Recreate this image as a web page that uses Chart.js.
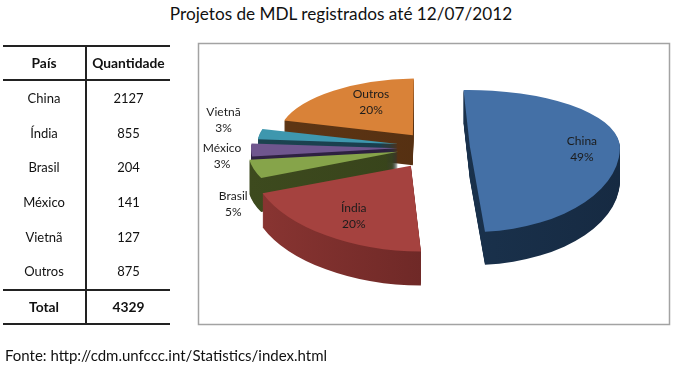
<!DOCTYPE html>
<html><head><meta charset="utf-8">
<script src="https://cdn.jsdelivr.net/npm/chart.js@4"></script>
<style>
html,body{margin:0;padding:0;background:#fff;width:677px;height:369px;overflow:hidden;font-family:Lato,sans-serif;color:#111}
#title{position:absolute;left:0;width:682px;top:3px;text-align:center;font-size:17.2px;line-height:22px}
#foot{position:absolute;left:5px;top:346px;font-size:15px;line-height:18px}
canvas{position:absolute;left:0;top:0}
table{position:absolute;left:3px;top:45px;width:167px;border-collapse:collapse;font-size:13px;table-layout:fixed}
td,th{padding:0;text-align:center;height:34.6px;line-height:16px}
th{font-size:13.8px;height:32px}
td:first-child,th:first-child{width:82px;border-right:2px solid #222}
tr.head th{border-top:2px solid #222;border-bottom:2px solid #222}
tr.total th{border-top:2px solid #222;border-bottom:2px solid #222}
</style></head><body>
<div id="title">Projetos de MDL registrados até 12/07/2012</div>
<canvas id="c" width="677" height="369"></canvas>
<table id="t"></table>
<div id="foot">Fonte: http://cdm.unfccc.int/Statistics/index.html</div>
<script>
const categories = ["China","Índia","Brasil","México","Vietnã","Outros"];
const quantities = [2127,855,204,141,127,875];
const tableHeader = ["País","Quantidade"];
const totalLabel = "Total";
const totalValue = 4329;
const topColors  = ["#4470a6","#a5423f","#86a44a","#6f568e","#3e97ae","#d98238"];
const sideLeft   = ["#1d3855","#8c3633","#3d4a1e","#2f2243","#1b4350","#5d3514"];
const sideRight  = ["#162a42","#571e1d","#333e18","#2a1e3a","#17384a","#4f2c10"];
const explode    = [40,36,33,32,32,29];
const stretch    = [1,1.07,1,0.98,0.94,0.9];
const depth      = [33,34,34,30,28,30];
const shearX     = [0.02,-0.05,0,0,0,-0.1];
const shearY     = [0,0.05,0,0,0,0];
const lift       = [0,0,0,0,-2,-4];
const kFronts    = [0.57,0.57,0.43,0.45,0.45,0.57];
const labelNudge = [[112,2],[-58,50],[-165,52],[-176,8],[-175,-26],[-41,-37]];
const kBack = 0.38;

let rows = `<tr class="head"><th>${tableHeader[0]}</th><th>${tableHeader[1]}</th></tr>`;
categories.forEach((c,i)=>{rows += `<tr><td>${c}</td><td>${quantities[i]}</td></tr>`;});
rows += `<tr class="total"><th>${totalLabel}</th><th>${totalValue}</th></tr>`;
document.getElementById('t').innerHTML = rows;

function paint(ctx, arc, i, dy, fill){
  const mid=(arc.startAngle+arc.endAngle)/2, ex=Math.cos(mid)*explode[i], ey=Math.sin(mid)*explode[i];
  const cx=arc.x, cy=arc.y, orig=arc.options, base=cy+dy+lift[i];
  arc.options=Object.assign({},orig,{backgroundColor:fill});
  [[kBack,-400,400],[kFronts[i],0,400]].forEach(([k,y0,h])=>{
    ctx.save();
    ctx.beginPath(); ctx.rect(0,base+y0,677,h); ctx.clip();
    ctx.translate(cx+ex,base);
    ctx.transform(1,shearY[i],shearX[i],1,0,0);
    ctx.scale(stretch[i],k); ctx.translate(-cx,ey-cy);
    arc.draw(ctx);
    ctx.restore();
  });
  arc.options=orig;
}
const pie3d = {
  id:'pie3d',
  beforeDatasetsDraw(chart){
    const ctx=chart.ctx, arcs=chart.getDatasetMeta(0).data;
    ctx.save(); ctx.strokeStyle='#a3a3a3'; ctx.lineWidth=1.5; ctx.strokeRect(198.5,43.5,471,281); ctx.restore();
    [5,4,3,2,1,0].forEach(i=>{
      const arc=arcs[i], R=arc.outerRadius*stretch[i];
      const g=ctx.createLinearGradient(arc.x-R,0,arc.x+R,0);
      g.addColorStop(0,sideLeft[i]); g.addColorStop(1,sideRight[i]);
      for(let d=depth[i];d>0;d--) paint(ctx,arc,i,d,g);
      paint(ctx,arc,i,0,topColors[i]);
    });
    const total=quantities.reduce((a,b)=>a+b,0);
    ctx.save();
    ctx.fillStyle='#1c1c1c'; ctx.font='12px Lato'; ctx.textAlign='center'; ctx.textBaseline='middle';
    arcs.forEach((arc,i)=>{
      const mid=(arc.startAngle+arc.endAngle)/2, ey=Math.sin(mid)*explode[i];
      const ax=arc.x+Math.cos(mid)*explode[i]+labelNudge[i][0];
      const ay=arc.y+ey*(ey<0?kBack:kFronts[i])+labelNudge[i][1];
      ctx.fillText(categories[i],ax,ay-8);
      ctx.fillText(Math.round(quantities[i]/total*100)+'%',ax,ay+8);
    });
    ctx.restore();
    return false;
  }
};
new Chart(document.getElementById('c'),{
  type:'pie',
  data:{labels:categories,datasets:[{data:quantities,backgroundColor:topColors,borderWidth:0,hoverOffset:0}]},
  options:{responsive:false,animation:false,events:[],radius:150,rotation:-2,
    layout:{padding:{left:183,right:0,top:0,bottom:73}},
    plugins:{legend:{display:false},tooltip:{enabled:false},title:{display:false}}},
  plugins:[pie3d]
});
</script>
</body></html>
